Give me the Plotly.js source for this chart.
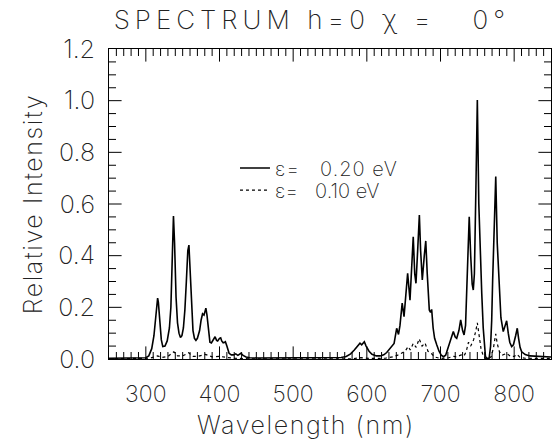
<!DOCTYPE html>
<html>
<head>
<meta charset="utf-8">
<script src="https://cdn.plot.ly/plotly-3.0.1.min.js"></script>
<style>html,body{margin:0;padding:0;background:#fff;}#chart{width:552px;height:439px;}
.gtitle{letter-spacing:5px;}
.xtitle,.ytitle{letter-spacing:1.6px;}
.g-xtitle{transform:translateX(-24px);}
.legendtext{letter-spacing:1px;}
</style>
</head>
<body>
<div id="chart"></div>
<script>
// Series 1: epsilon = 0.20 eV (solid)
const wlSolid = [250,260,270,280,290,295,300,304,308,311,313,315,316,317,319,321,323,326,329,332,334,336,337.5,339,341,343,345,347,349,351,353,355,357,358.5,360,362,364,366,368,370,373,375,377,379,381.5,383,385,387,389,391,394,396,397.5,400,401.6,403,405,407,408,410,413,416,419,422,425,429,432,436,441,450,470,490,510,530,550,560,565,572,578,583,587,590.7,593,596.6,599,603,607,613,618,623,627,631,634,637,640.5,643,645,648,650.5,653,655.4,658.6,661,663,665,666.7,669,671.3,673,675.3,678,680,682,684.8,686.5,688,690,692,695,698,701,704,707,710,713,717.4,720,722,725,727.4,730,732,734,736,738,739,741,743,744.5,746,748,750,752,754,756,758,759.5,761,762.7,766,768,769.5,770.8,773,775,777,779.8,782,785.2,788,789.8,792,794,796.6,799,802,804.2,806,808,810.2,815,821.5,830,840,850];
const intSolid = [0.003,0.003,0.003,0.003,0.003,0.003,0.005,0.012,0.04,0.09,0.15,0.215,0.236,0.22,0.14,0.075,0.048,0.05,0.07,0.12,0.2,0.38,0.553,0.45,0.24,0.14,0.1,0.083,0.09,0.12,0.19,0.3,0.42,0.441,0.36,0.2,0.11,0.08,0.072,0.08,0.11,0.15,0.175,0.17,0.197,0.17,0.1,0.065,0.062,0.07,0.086,0.072,0.07,0.08,0.082,0.07,0.063,0.065,0.067,0.05,0.022,0.016,0.016,0.02,0.014,0.022,0.014,0.008,0.005,0.004,0.004,0.004,0.004,0.004,0.004,0.004,0.006,0.01,0.02,0.035,0.05,0.061,0.055,0.067,0.05,0.03,0.018,0.012,0.012,0.016,0.025,0.04,0.048,0.06,0.119,0.095,0.13,0.216,0.164,0.25,0.332,0.228,0.35,0.473,0.33,0.293,0.42,0.557,0.42,0.306,0.4,0.457,0.33,0.19,0.18,0.192,0.12,0.08,0.054,0.03,0.015,0.009,0.015,0.04,0.065,0.106,0.085,0.08,0.11,0.151,0.11,0.093,0.13,0.3,0.5,0.551,0.4,0.29,0.267,0.33,0.65,1.003,0.6,0.38,0.254,0.12,0.048,0.01,0.003,0.003,0.05,0.15,0.306,0.55,0.706,0.45,0.254,0.16,0.106,0.13,0.148,0.1,0.065,0.048,0.055,0.09,0.119,0.08,0.045,0.028,0.017,0.012,0.01,0.008,0.008];

// Series 2: epsilon = 0.10 eV (dotted)
const wlDot = [250,300,305,316,322,330,338,343,350,358,364,370,381,390,400,410,420,440,580,592,605,625,635,642,648,652,656,659,663,667,671,675,679,683,688,692,700,710,718,722,728,732,735,738,741,745,748,750,752,755,758,761,766,769,772,775,777,780,784,790,795,800,804,808,815,830,850];
const intDot = [0.001,0.001,0.003,0.012,0.006,0.01,0.028,0.012,0.012,0.024,0.01,0.01,0.018,0.008,0.01,0.006,0.003,0.001,0.001,0.005,0.002,0.003,0.008,0.015,0.025,0.03,0.048,0.035,0.06,0.045,0.078,0.05,0.062,0.03,0.02,0.008,0.002,0.004,0.01,0.008,0.016,0.012,0.03,0.065,0.05,0.075,0.11,0.14,0.1,0.04,0.012,0.002,0.002,0.01,0.045,0.097,0.06,0.028,0.015,0.022,0.01,0.01,0.018,0.006,0.003,0.002,0.002];

// Axis tick positions (major and minor)
const xMajorTicks = [300,400,500,600,700,800];
const xMinorTicks = [260,270,280,290,310,320,330,340,350,360,370,380,390,410,420,430,440,450,460,470,480,490,510,520,530,540,550,560,570,580,590,610,620,630,640,650,660,670,680,690,710,720,730,740,750,760,770,780,790,810,820,830,840];
const yMajorTicks = [0.2,0.4,0.6,0.8,1.0];
const yMinorTicks = [0.05,0.1,0.15,0.25,0.3,0.35,0.45,0.5,0.55,0.65,0.7,0.75,0.85,0.9,0.95,1.05,1.1,1.15];

const seriesNames = ['\u03b5=\u00a0\u00a0\u00a00.20\u00a0eV', '\u03b5=\u00a0\u00a0\u00a00.10\u00a0eV'];
const titleText = 'SPECTRUM h=0 \u03c7 =\u00a0\u00a0 0\u00b0';
const xTitle = 'Wavelength (nm)';
const yTitle = 'Relative Intensity';

const X_RANGE = [250, 850];
const Y_RANGE = [0, 1.2];

const INK = '#222';
const FONT = 'Inter, DejaVu Sans, sans-serif';

// Inward tick marks: line markers centred on the frame, outer half clipped by the plot area
function tickTrace(xs, ys, symbol, len) {
  return {x: xs, y: ys, mode: 'markers', showlegend: false, hoverinfo: 'skip', cliponaxis: true,
    marker: {symbol: symbol, size: 2 * len, color: '#000', line: {color: '#000', width: 1}}};
}
const at = (vals, v) => vals.map(() => v);

const traces = [
  {x: wlSolid, y: intSolid, name: seriesNames[0], mode: 'lines', line: {color: '#000', width: 1.6}, legend: 'legend'},
  {x: wlDot, y: intDot, name: seriesNames[1], mode: 'lines', line: {color: '#000', width: 1.2, dash: 'dot'}, legend: 'legend2'},
  tickTrace(xMajorTicks, at(xMajorTicks, Y_RANGE[0]), 'line-ns', 9),
  tickTrace(xMinorTicks, at(xMinorTicks, Y_RANGE[0]), 'line-ns', 5),
  tickTrace(xMajorTicks, at(xMajorTicks, Y_RANGE[1]), 'line-ns', 9),
  tickTrace(xMinorTicks, at(xMinorTicks, Y_RANGE[1]), 'line-ns', 5),
  tickTrace(at(yMajorTicks, X_RANGE[0]), yMajorTicks, 'line-ew', 9),
  tickTrace(at(yMinorTicks, X_RANGE[0]), yMinorTicks, 'line-ew', 5),
  tickTrace(at(yMajorTicks, X_RANGE[1]), yMajorTicks, 'line-ew', 9),
  tickTrace(at(yMinorTicks, X_RANGE[1]), yMinorTicks, 'line-ew', 5)
];

const layout = {
  width: 552, height: 439,
  margin: {l: 109, r: 1, t: 49, b: 80},
  paper_bgcolor: '#fff', plot_bgcolor: '#fff',
  font: {family: FONT, weight: 200, color: INK},
  title: {text: titleText, font: {family: FONT, weight: 200, size: 26, color: INK}, xref: 'container', x: 0.565, xanchor: 'center', yref: 'container', y: 0.975, yanchor: 'top'},
  xaxis: {
    showline: true, linecolor: '#000', linewidth: 1, mirror: true, ticks: '',
    showgrid: false, zeroline: false, fixedrange: true,
    range: X_RANGE, dtick: 100, tick0: 0,
    tickfont: {family: FONT, weight: 200, size: 23, color: INK},
    ticklabelstandoff: 14, automargin: true,
    title: {text: xTitle, font: {family: FONT, weight: 200, size: 25, color: INK}, standoff: 9}
  },
  yaxis: {
    showline: true, linecolor: '#000', linewidth: 1, mirror: true, ticks: '',
    showgrid: false, zeroline: false, fixedrange: true,
    range: Y_RANGE, dtick: 0.2, tick0: 0, tickformat: '.1f',
    tickfont: {family: FONT, weight: 200, size: 25, color: INK},
    ticklabelstandoff: 8, automargin: true,
    title: {text: yTitle, font: {family: FONT, weight: 200, size: 25, color: INK}, standoff: 8}
  },
  showlegend: true,
  legend: {x: 0.285, y: 0.616, xanchor: 'left', yanchor: 'middle', bgcolor: 'rgba(0,0,0,0)', borderwidth: 0,
    font: {family: FONT, weight: 200, size: 20, color: INK}},
  legend2: {x: 0.285, y: 0.545, xanchor: 'left', yanchor: 'middle', bgcolor: 'rgba(0,0,0,0)', borderwidth: 0,
    font: {family: FONT, weight: 200, size: 20, color: INK}}
};

Plotly.newPlot('chart', traces, layout, {staticPlot: true, displayModeBar: false});
</script>
</body>
</html>
